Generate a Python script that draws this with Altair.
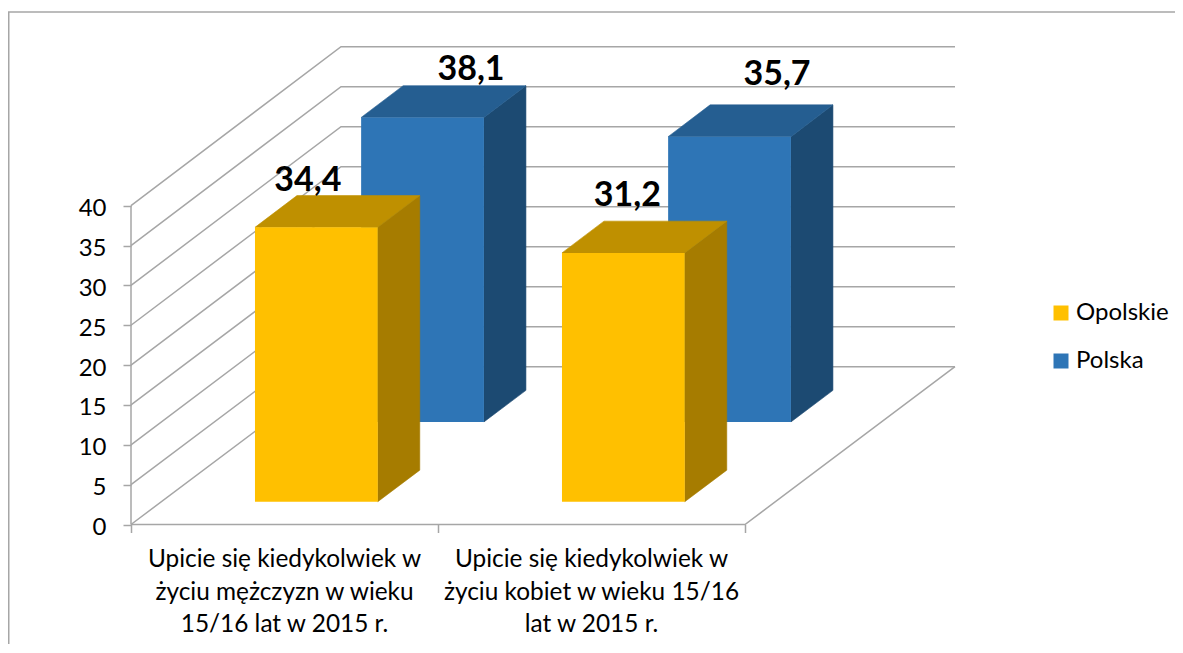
import altair as alt
import pandas as pd

# --- values
series = ["Opolskie", "Polska"]
categories = [
    "Upicie się kiedykolwiek w\nżyciu mężczyzn w wieku\n15/16 lat w 2015 r.",
    "Upicie się kiedykolwiek w\nżyciu kobiet w wieku 15/16\nlat w 2015 r.",
]
opolskie = [34.4, 31.2]
polska = [38.1, 35.7]
labels_opolskie = ["34,4", "31,2"]
labels_polska = ["38,1", "35,7"]
y_ticks = [0, 5, 10, 15, 20, 25, 30, 35, 40]

# --- styles
FRONT = {"Opolskie": "#FFC000", "Polska": "#2E75B6"}
TOP = {"Opolskie": "#BF9000", "Polska": "#255E91"}
SIDE = {"Opolskie": "#A67C00", "Polska": "#1C4A72"}
GRID = "#A6A6A6"
FONT = "Lato"

# --- oblique projection of the 3-D box onto the page
W, H = 1167, 636
X0, Y0 = 131, 524.5        # page pixel of category 0, value 0
PX_CAT, PX_VAL = 307, 7.97
DEPTH_X, DEPTH_Y = 210, 157.8
BAR_START, BAR_WIDTH, BAR_DEPTH = 0.305, 0.40, 0.2
DEPTH_FRONT = {"Opolskie": 0.1445, "Polska": 0.65}
# label offset from the bar's front-top centre (page px)
LABEL_DX = {"Opolskie": [-8.5, 4], "Polska": [48.5, 47.5]}
LABEL_DY = {"Opolskie": [-46, -57], "Polska": [-47.5, -62]}


def P(cat, val, depth=0.0):
    return (
        cat + depth * DEPTH_X / PX_CAT,
        val * (1 + 0.004 * depth) + depth * DEPTH_Y / PX_VAL,
    )


x_scale = alt.Scale(domain=[(8 - X0) / PX_CAT, (8 + W - X0) / PX_CAT], nice=False, zero=False)
y_scale = alt.Scale(domain=[(Y0 - 8 - H) / PX_VAL, (Y0 - 8) / PX_VAL], nice=False, zero=False)
axis_style = dict(
    domain=False, grid=False, tickColor=GRID, tickWidth=1.5, tickSize=8,
    labelFont=FONT, labelFontSize=24, labelColor="#000000", title=None,
)
xq = alt.X("x:Q", scale=x_scale,
           axis=alt.Axis(values=[0, 1, 2], offset=-(8 + H - Y0), labels=False, **axis_style))
yq = alt.Y("y:Q", scale=y_scale,
           axis=alt.Axis(values=y_ticks, offset=-(X0 - 8), labelPadding=17, labelOffset=3, **axis_style))

# --- wall and floor lines
rows = []


def seg(name, pts):
    for i, (a, b) in enumerate(pts):
        rows.append({"id": name, "i": i, "x": a, "y": b})


for v in y_ticks:
    seg(f"w{v}", [P(0, v, 0), P(0, v, 1), P(2, v, 1)])
seg("floorfront", [P(0, 0, 0), P(2, 0, 0), P(2, 0, 1)])
seg("axisv", [P(0, 0, 0), P(0, 40, 0)])
lines = (
    alt.Chart(pd.DataFrame(rows))
    .mark_line(color=GRID, strokeWidth=1.5, interpolate="linear")
    .encode(x=xq, y=yq, detail="id:N", order="i:Q")
)


# --- bars
def bar_layers(name, values):
    d = DEPTH_FRONT[name]
    d2 = d + BAR_DEPTH
    side, top, front = [], [], []
    for c, v in enumerate(values):
        a = c + BAR_START
        b = a + BAR_WIDTH
        # side face: vertical strips from front edge to back edge
        for (xx, yt), (_, yb) in [
            (P(b, v, d), P(b, 0, d)),
            (P(b, v, d2), P(b, 0, d2)),
        ]:
            side.append({"bar": c, "x": xx, "y": yt, "y2": yb})
        # top face: parallelogram as an area between two broken edges
        fl, fr = P(a, v, d), P(b, v, d)
        bl, br = P(a, v, d2), P(b, v, d2)
        top += [
            {"bar": c, "x": fl[0], "y": fl[1], "y2": fl[1]},
            {"bar": c, "x": bl[0], "y": bl[1], "y2": fl[1]},
            {"bar": c, "x": fr[0], "y": bl[1], "y2": fr[1]},
            {"bar": c, "x": br[0], "y": br[1], "y2": br[1]},
        ]
        front.append({"series": name, "x": fl[0], "x2": fr[0], "y": fl[1], "y2": P(a, 0, d)[1]})
    return [
        alt.Chart(pd.DataFrame(side))
        .mark_area(color=SIDE[name], stroke=SIDE[name], strokeWidth=0.6, interpolate="linear")
        .encode(x=xq, y=yq, y2=alt.Y2("y2:Q"), detail="bar:N"),
        alt.Chart(pd.DataFrame(top))
        .mark_area(color=TOP[name], stroke=TOP[name], strokeWidth=0.6, interpolate="linear")
        .encode(x=xq, y=yq, y2=alt.Y2("y2:Q"), detail="bar:N"),
        alt.Chart(pd.DataFrame(front)).mark_rect()
        .encode(
            x=xq, x2="x2:Q", y=yq, y2="y2:Q",
            color=alt.Color(
                "series:N",
                scale=alt.Scale(domain=series, range=[FRONT[s] for s in series]),
                legend=alt.Legend(
                    title=None, orient="none", legendX=1041, legendY=293,
                    symbolType="square", symbolSize=225, symbolStrokeWidth=0,
                    labelFont=FONT, labelFontSize=24, labelColor="#000000",
                    labelOffset=3, rowPadding=24,
                ),
            ),
        ),
    ]


# --- value labels
lab = []
for name, vals, texts in [("Opolskie", opolskie, labels_opolskie), ("Polska", polska, labels_polska)]:
    d = DEPTH_FRONT[name]
    for c, (v, t) in enumerate(zip(vals, texts)):
        px, py = P(c + BAR_START + BAR_WIDTH / 2, v, d)
        lab.append({
            "x": px + LABEL_DX[name][c] / PX_CAT,
            "y": py - LABEL_DY[name][c] / PX_VAL,
            "t": t,
        })
value_labels = (
    alt.Chart(pd.DataFrame(lab))
    .mark_text(font=FONT, fontSize=34, fontWeight="bold", color="#000000", baseline="middle", align="center")
    .encode(x=xq, y=yq, text="t:N")
)

# --- category labels
cat_labels = (
    alt.Chart(pd.DataFrame({
        "x": [0.5, 1.5],
        "y": [(Y0 - 567) / PX_VAL] * 2,
        "t": categories,
    }))
    .mark_text(font=FONT, fontSize=24.4, color="#000000", baseline="alphabetic", align="center",
               lineBreak="\n", lineHeight=32.5)
    .encode(x=xq, y=yq, text="t:N")
)

# --- outer frame
frame = [
    alt.Chart(pd.DataFrame({"a": [0]})).mark_rule(color=GRID, strokeWidth=2)
    .encode(x=alt.value(0.5), y=alt.value(4), y2=alt.value(H)),
    alt.Chart(pd.DataFrame({"a": [0]})).mark_rule(color=GRID, strokeWidth=1.5)
    .encode(x=alt.value(0), x2=alt.value(W), y=alt.value(4)),
]

chart = (
    alt.layer(
        *frame, lines,
        *bar_layers("Polska", polska),
        *bar_layers("Opolskie", opolskie),
        value_labels, cat_labels,
    )
    .properties(width=W, height=H, padding=0,
                autosize=alt.AutoSizeParams(type="none", contains="padding"))
    .configure_view(stroke=None)
)
chart.save("out.html", embed_options={"renderer": "svg", "actions": False})
